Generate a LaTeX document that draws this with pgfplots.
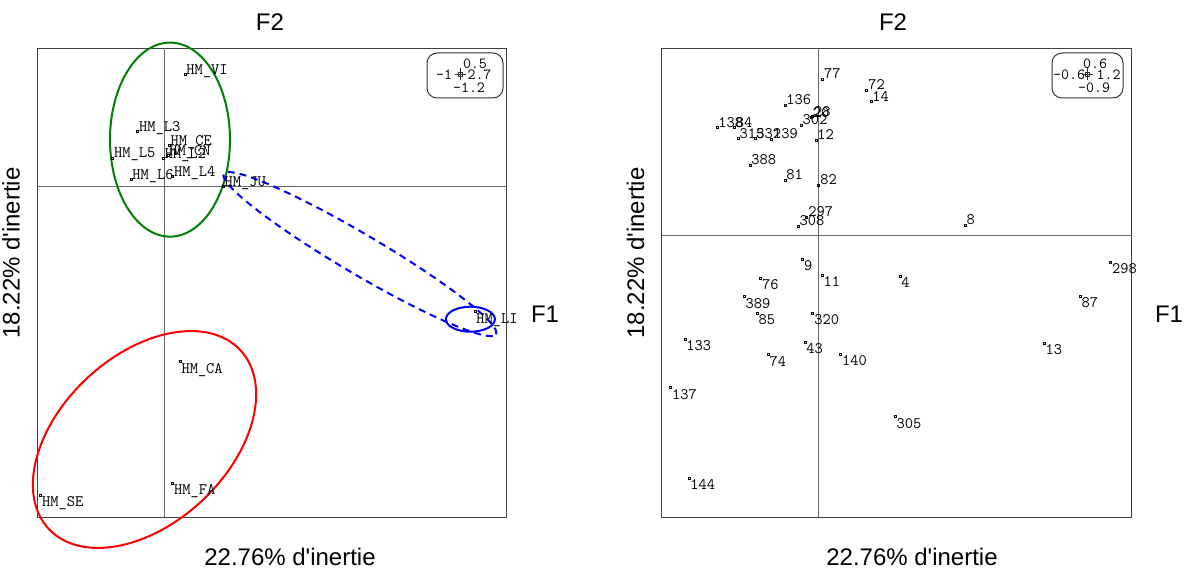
\documentclass[border=0pt]{standalone}
\usepackage{fontspec}
\usepackage{pgfplots}
\pgfplotsset{compat=1.18}
\newfontfamily\titlefont{Liberation Sans}
\newcommand\myTitleFont{\titlefont\fontsize{24bp}{28bp}\selectfont}
\newcommand\myLabFont{\ttfamily\fontsize{16bp}{18bp}\selectfont}
\newcommand\myScaleFont{\ttfamily\fontsize{15.5bp}{17bp}\selectfont}
\definecolor{dkgreen}{RGB}{0,128,0}
\begin{document}
\begin{tikzpicture}
\useasboundingbox (0,0) rectangle (1188bp,569bp);
\pgfplotsset{
  ca/.style={scale only axis, anchor=south west, height=469bp, ticks=none,
    axis line style={black!75, line width=1bp}, clip=false},
  pts/.style={only marks, mark=square, mark size=1bp,
    mark options={black, line width=0.6bp, solid},
    point meta=explicit symbolic, nodes near coords,
    nodes near coords style={font=\myLabFont, inner sep=1.2bp, text=black}},
}
% ---------------- left panel
\begin{axis}[ca, at={(37.3bp,51.7bp)}, width=469.4bp, xmin=-1,xmax=2.7,ymin=-1.2,ymax=0.5]
\draw[black!60, line width=1bp] (axis cs:-1,0) -- (axis cs:2.7,0);
\draw[black!60, line width=1bp] (axis cs:0,-1.2) -- (axis cs:0,0.5);
\addplot[pts, nodes near coords style={anchor=base west}] coordinates {
(0.164,0.406) [HM\_VI]
(-0.209,0.200) [HM\_L3]
(0.040,0.148) [HM\_CE]
(0.030,0.113) [HM\_CN]
(-0.007,0.101) [HM\_L2]
(-0.406,0.103) [HM\_L5]
(-0.262,0.025) [HM\_L6]
(0.067,0.037) [HM\_L4]
(0.465,-0.001) [HM\_JU]
};
\addplot[pts, nodes near coords style={anchor=north west}] coordinates {
(2.449,-0.455) [HM\_LI]
(0.125,-0.636) [HM\_CA]
(0.067,-1.075) [HM\_FA]
(-0.973,-1.119) [HM\_SE]
};
\draw[dkgreen, line width=2bp] (axis cs:0.046,0.169) ellipse [x radius=60bp, y radius=97bp];
\draw[red, line width=2bp, rotate around={43:(axis cs:-0.155,-0.918)}] (axis cs:-0.155,-0.918) ellipse [x radius=131bp, y radius=84bp];
\draw[blue, line width=2bp] (axis cs:2.414,-0.482) ellipse [x radius=24.5bp, y radius=12.5bp];
\draw[blue, line width=2bp, dash pattern=on 7bp off 5bp, rotate around={-30.5:(axis cs:1.543,-0.246)}] (axis cs:1.543,-0.246) ellipse [x radius=158bp, y radius=20bp];
\end{axis}
% ---------------- right panel
\begin{axis}[ca, at={(661.5bp,51.7bp)}, width=469.5bp, xmin=-0.6,xmax=1.2,ymin=-0.9,ymax=0.6]
\draw[black!60, line width=1bp] (axis cs:-0.6,0) -- (axis cs:1.2,0);
\draw[black!60, line width=1bp] (axis cs:0,-0.9) -- (axis cs:0,0.6);
\addplot[pts, nodes near coords style={anchor=base west}] coordinates {
(0.018,0.502)[77] (0.187,0.467)[72] (0.203,0.429)[14] (-0.127,0.419)[136]
(-0.025,0.380)[20] (-0.021,0.383)[28] (-0.065,0.355)[302] (-0.388,0.348)[138]
(-0.321,0.347)[84] (-0.306,0.312)[315] (-0.242,0.312)[332] (-0.178,0.310)[139]
(-0.008,0.307)[12] (-0.261,0.227)[388] (-0.127,0.179)[81] (0.003,0.163)[82]
(-0.043,0.061)[297] (-0.076,0.032)[308] (0.564,0.035)[8]
};
\addplot[pts, nodes near coords style={anchor=north west}] coordinates {
(-0.059,-0.075)[9] (0.016,-0.125)[11] (0.314,-0.128)[4] (-0.220,-0.136)[76]
(-0.283,-0.194)[389] (-0.233,-0.248)[85] (-0.020,-0.248)[320] (-0.510,-0.331)[133]
(-0.050,-0.339)[43] (-0.191,-0.380)[74] (0.087,-0.378)[140] (-0.565,-0.485)[137]
(0.296,-0.578)[305] (-0.495,-0.775)[144] (1.122,-0.084)[298] (1.005,-0.192)[87]
(0.867,-0.343)[13]
};
\end{axis}
% ---------------- titles
\node[font=\myTitleFont] at (270bp,547bp) {F2};
\node[font=\myTitleFont] at (893bp,547bp) {F2};
\node[font=\myTitleFont] at (290bp,12bp) {22.76\% d'inertie};
\node[font=\myTitleFont] at (912bp,12bp) {22.76\% d'inertie};
\node[font=\myTitleFont, rotate=90] at (11bp,316bp) {18.22\% d'inertie};
\node[font=\myTitleFont, rotate=90] at (635.5bp,316bp) {18.22\% d'inertie};
\node[font=\myTitleFont] at (545bp,255bp) {F1};
\node[font=\myTitleFont] at (1169bp,255bp) {F1};
% ---------------- scale boxes
\draw[black!80, line width=1bp, rounded corners=10bp] (427bp,516bp) rectangle (503bp,471bp);
\node[font=\myScaleFont, inner sep=0] at (475bp,505.5bp) {0.5};
\node[font=\myScaleFont, inner sep=0] at (444bp,494bp) {-1};
\node[font=\myScaleFont, inner sep=0] at (479.5bp,494bp) {2.7};
\node[font=\myScaleFont, inner sep=0] at (469bp,481.5bp) {-1.2};
\draw[black!80, line width=0.7bp] (455bp,495bp) -- (466bp,495bp) (460.5bp,489bp) -- (460.5bp,501bp);
\draw[black!80, line width=0.6bp] (458.5bp,493bp) rectangle (462.5bp,497bp);
\draw[black!80, line width=1bp, rounded corners=10bp] (1052bp,516bp) rectangle (1123bp,471bp);
\node[font=\myScaleFont, inner sep=0] at (1095bp,505.5bp) {0.6};
\node[font=\myScaleFont, inner sep=0] at (1069bp,494bp) {-0.6};
\node[font=\myScaleFont, inner sep=0] at (1108.5bp,494bp) {1.2};
\node[font=\myScaleFont, inner sep=0] at (1094bp,481.5bp) {-0.9};
\draw[black!80, line width=0.7bp] (1082bp,495bp) -- (1093bp,495bp) (1087.5bp,489bp) -- (1087.5bp,501bp);
\draw[black!80, line width=0.6bp] (1085.5bp,493bp) rectangle (1089.5bp,497bp);
\end{tikzpicture}
\end{document}
